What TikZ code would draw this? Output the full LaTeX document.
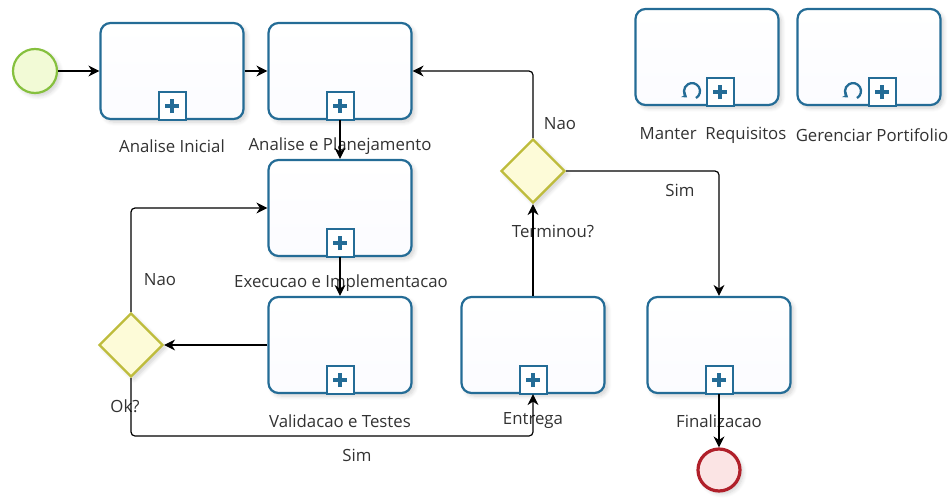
\documentclass[tikz,border=0pt]{standalone}
\usepackage{fontspec}
\setmainfont{Open Sans}
\usetikzlibrary{shapes.geometric,arrows.meta,shadows.blur,calc}

\definecolor{taskline}{RGB}{36,108,150}
\definecolor{taskfill}{RGB}{240,244,251}
\definecolor{gateline}{RGB}{190,188,60}
\definecolor{gatefill}{RGB}{253,251,216}
\definecolor{startline}{RGB}{134,192,62}
\definecolor{startfill}{RGB}{242,250,214}
\definecolor{endline}{RGB}{176,32,42}
\definecolor{endfill}{RGB}{251,228,228}
\definecolor{txt}{RGB}{50,50,50}

\tikzset{
  softshadow/.style={blur shadow={shadow xshift=3pt, shadow yshift=-3pt,
      shadow blur steps=6, shadow blur radius=4pt, shadow opacity=18}},
  task/.style={rectangle, rounded corners=10pt, draw=taskline, line width=2.2pt,
      top color=white, bottom color=taskfill!80!blue!6, minimum width=143pt,
      minimum height=96pt, inner sep=0pt, softshadow},
  gate/.style={diamond, aspect=1, draw=gateline, fill=gatefill, line width=2.2pt,
      minimum width=64pt, minimum height=64pt, inner sep=0pt, softshadow},
  startev/.style={circle, draw=startline, fill=startfill, line width=2.2pt,
      minimum size=44pt, inner sep=0pt, softshadow},
  endev/.style={circle, draw=endline, fill=endfill, line width=3.2pt,
      minimum size=42pt, inner sep=0pt, softshadow},
  lbl/.style={text=txt, font=\fontsize{16.8}{19}\selectfont, inner sep=0pt},
  flow/.style={draw=black, line width=1.2pt, rounded corners=4pt,
      -{Stealth[length=11pt, width=11pt, inset=3.5pt]}},
  mk/.style={draw=taskline, line width=2pt},
  pics/subp/.style={code={
      \draw[mk, fill=white] (-13.5,0) rectangle (13.5,-28);
      \draw[taskline, line width=4pt] (-7,-14) -- (7,-14) (0,-7) -- (0,-21);
  }},
  pics/loopm/.style={code={
      \draw[taskline, line width=2.3pt, -{Stealth[length=5pt, width=7pt]}]
          (4,6.93) arc[start angle=60, end angle=-232, radius=8];
  }},
}

\begin{document}
\begin{tikzpicture}[x=1pt, y=-1pt]
  \useasboundingbox (0,0) rectangle (948,498);

  % events
  \node[startev] (start) at (35,71) {};
  \node[endev] (finish) at (719,470) {};

  % tasks
  \node[task] (t1) at (172,71) {};
  \node[task] (t2) at (340,71) {};
  \node[task] (t3) at (340,208) {};
  \node[task] (t4) at (340,345) {};
  \node[task] (t5) at (533,345) {};
  \node[task] (t6) at (719,345) {};
  \node[task] (t7) at (707,57) {};
  \node[task] (t8) at (869,57) {};

  % sub-process markers
  \foreach \n in {t1,t2,t3,t4,t5,t6} { \pic at (\n.south) {subp}; }
  \pic at ($(t7.south)+(13,0)$) {subp};
  \pic at ($(t7.south)+(-15,-15)$) {loopm};
  \pic at ($(t8.south)+(13,0)$) {subp};
  \pic at ($(t8.south)+(-16,-15)$) {loopm};

  % gateways
  \node[gate] (g1) at (131,345) {};
  \node[gate] (g2) at (533,171) {};

  % task labels
  \node[lbl] (l1) at (172,146) {Analise Inicial};
  \node[lbl] (l2) at (340,146) {Analise e Planejamento};
  \node[lbl] (l3) at (341,283) {Execucao e Implementacao};
  \node[lbl] (l4) at (340,421) {Validacao e Testes};
  \node[lbl] (l5) at (533,421) {Entrega};
  \node[lbl] (l6) at (719,421) {Finalizacao};
  \node[lbl] (l7) at (713,135) {Manter\ \ Requisitos};
  \node[lbl] (l8) at (872,135) {Gerenciar Portifolio};

  % gateway and flow labels
  \node[lbl] (lg1) at (125,406) {Ok?};
  \node[lbl] (lg2) at (553,231) {Terminou?};
  \node[lbl] (ln1) at (160,280) {Nao};
  \node[lbl] (ln2) at (560,124) {Nao};
  \node[lbl] (ls1) at (357,455) {Sim};
  \node[lbl] (ls2) at (680,190) {Sim};

  \coordinate (simrow) at (0,436);

  % sequence flows
  \draw[flow] (start) -- (t1);
  \draw[flow] (t1) -- (t2);
  \draw[flow] (g2.north) |- (t2.east);
  \draw[flow] (t2) -- (t3);
  \draw[flow] (t3) -- (t4);
  \draw[flow] (t4.west) -- (g1.east);
  \draw[flow] (g1.north) |- (t3.west);
  \draw[flow] (g1.south) |- (t5.south |- simrow) -- (t5.south);
  \draw[flow] (t5) -- (g2);
  \draw[flow] (g2.east) -| (t6.north);
  \draw[flow] (t6) -- (finish);
\end{tikzpicture}
\end{document}
